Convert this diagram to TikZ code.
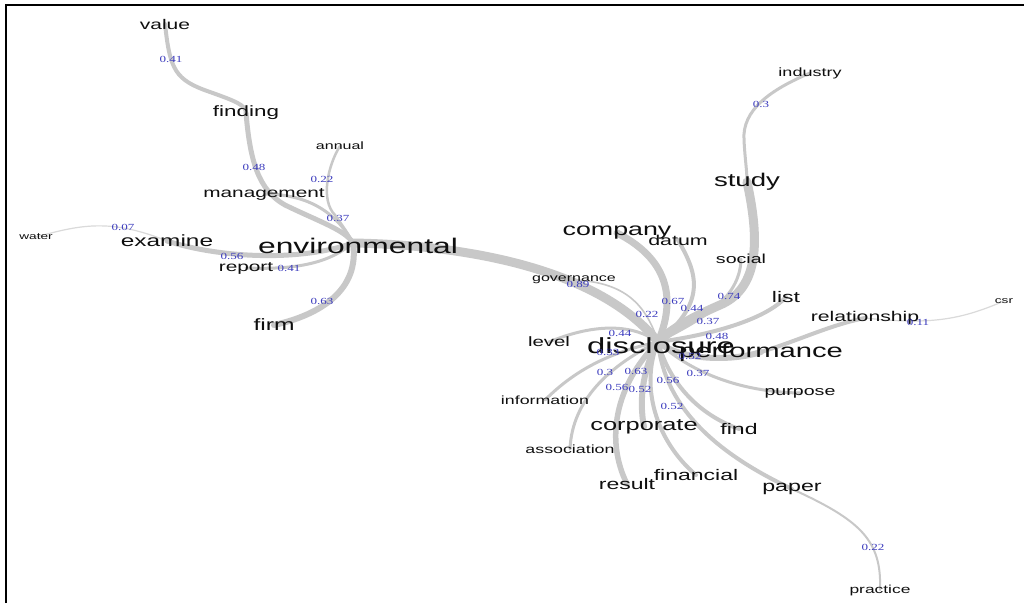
\documentclass[tikz,border=0pt]{standalone}
\usepackage{fontspec}
\setmainfont{Liberation Sans}[FakeStretch=1.5]
\newfontfamily\labfont{Liberation Serif}[FakeStretch=1.4]
\definecolor{edgec}{RGB}{200,200,200}
\definecolor{edgel}{RGB}{218,218,218}
\definecolor{labc}{RGB}{60,60,190}
\definecolor{wordc}{RGB}{15,15,15}
\pgfdeclarelayer{background}
\pgfsetlayers{background,main}
\tikzset{
  word/.style={inner sep=0pt, text=wordc, anchor=center, yshift=-1.5pt, font=\fontsize{#1}{#1}\selectfont},
  elab/.style={inner sep=0pt, text=labc, font=\labfont\fontsize{7}{7}\selectfont},
  conn/.style={draw=edgec, line width=#1*0.75pt, line cap=round},
  lconn/.style={draw=edgel, line width=#1*0.75pt, line cap=round},
}
\begin{document}
\begin{tikzpicture}[x=0.75pt,y=-0.75pt]
\useasboundingbox (0,0) rectangle (1024,603);
\draw[line width=1.1pt] (6,603) -- (6,5) -- (1024,5);

% words
\path
  node[word=10.5pt] (value) at (165,22) {value}
  node[word=11.2pt] (finding) at (246,111) {finding}
  node[word=8pt] (annual) at (340,144) {annual}
  node[word=10.4pt] (management) at (264,192) {management}
  node[word=12.2pt] (examine) at (167,239) {examine}
  node[word=6.8pt] (water) at (36,235) {water}
  node[word=15.9pt] (env) at (358,244) {environmental}
  node[word=10.4pt] (report) at (246,266) {report}
  node[word=12.3pt] (firm) at (274,323) {firm}
  node[word=9pt] (industry) at (810,71) {industry}
  node[word=13.8pt] (study) at (747,180) {study}
  node[word=13.4pt] (company) at (617,231) {company}
  node[word=10.7pt] (datum) at (678,238) {datum}
  node[word=9.8pt] (social) at (741,257) {social}
  node[word=8pt] (governance) at (574,278) {governance}
  node[word=11.5pt] (list) at (786,295) {list}
  node[word=10.6pt] (relationship) at (865,316) {relationship}
  node[word=6.8pt] (csr) at (1004,299) {csr}
  node[word=10.2pt] (level) at (549,340) {level}
  node[word=16.4pt] (disc) at (661,344) {disclosure}
  node[word=14.6pt] (perf) at (761,350) {performance}
  node[word=8.9pt] (info) at (545,398) {information}
  node[word=9.8pt] (purpose) at (800,391) {purpose}
  node[word=12.7pt] (corp) at (644,425) {corporate}
  node[word=11.5pt] (find) at (739,427) {find}
  node[word=8.9pt] (assoc) at (570,447) {association}
  node[word=11.5pt] (fin) at (696,473) {financial}
  node[word=11.5pt] (result) at (627,482) {result}
  node[word=11.6pt] (paper) at (792,487) {paper}
  node[word=8.7pt] (practice) at (880,588) {practice};
\coordinate (hub) at (658,342);
\coordinate (envc) at (353,243);

% edge labels
\node[elab] (l1) at (171,59) {0.41};
\node[elab] (l2) at (254,167) {0.48};
\node[elab] (l3) at (322,179) {0.22};
\node[elab] (l4) at (338,218) {0.37};
\node[elab] (l5) at (123,227) {0.07};
\node[elab] (l6) at (232,256) {0.56};
\node[elab] (l7) at (289,268) {0.41};
\node[elab] (l8) at (322,301) {0.63};
\node[elab] (l9) at (761,104) {0.3};
\node[elab] (l10) at (578,284) {0.89};
\node[elab] (l11) at (647,314) {0.22};
\node[elab] (l12) at (673,301) {0.67};
\node[elab] (l13) at (692,308) {0.44};
\node[elab] (l14) at (729,296) {0.74};
\node[elab] (l15) at (708,321) {0.37};
\node[elab] (l16) at (717,336) {0.48};
\node[elab] (l17) at (620,333) {0.44};
\node[elab] (l18) at (608,352) {0.33};
\node[elab] (l19) at (918,322) {0.11};
\node[elab] (l20) at (690,356) {0.52};
\node[elab] (l21) at (605,372) {0.3};
\node[elab] (l22) at (636,371) {0.63};
\node[elab] (l23) at (668,380) {0.56};
\node[elab] (l24) at (698,373) {0.37};
\node[elab] (l25) at (617,387) {0.56};
\node[elab] (l26) at (640,389) {0.52};
\node[elab] (l27) at (672,406) {0.52};
\node[elab] (l28) at (873,547) {0.22};

% edges
\begin{pgfonlayer}{background}
\fill[white] (0,0) rectangle (1024,603);
\path[conn=4] (value.center) .. controls (170,70) and (175,80) .. (210,92) .. controls (235,101) and (246,105) .. (finding.center);
\path[conn=5] (finding.center) .. controls (250,160) and (258,190) .. (285,205) .. controls (320,222) and (345,230) .. (envc);
\path[conn=3] (management.center) .. controls (305,194) and (335,210) .. (envc);
\path[conn=2.5] (annual.center) .. controls (328,165) and (320,200) .. (335,215) .. controls (342,225) and (350,236) .. (envc);
\path[lconn=1.2] (water.center) .. controls (80,225) and (110,218) .. (examine.center);
\path[conn=5] (examine.center) .. controls (220,258) and (300,262) .. (envc);
\path[conn=3] (report.center) .. controls (300,270) and (330,262) .. (envc);
\path[conn=6] (firm.center) .. controls (320,315) and (360,290) .. (envc);
\path[conn=9] (envc) .. controls (470,245) and (600,270) .. (hub);
\path[conn=1.6] (governance.center) .. controls (620,282) and (645,300) .. (hub);
\path[conn=7] (company.center) .. controls (660,255) and (680,290) .. (hub);
\path[conn=4] (datum.center) .. controls (695,270) and (710,300) .. (hub);
\path[conn=9] (study.center) .. controls (762,250) and (755,290) .. (720,305) .. controls (690,318) and (670,330) .. (hub);
\path[conn=3] (social.center) .. controls (740,300) and (700,320) .. (hub);
\path[conn=3] (industry.center) .. controls (770,90) and (742,110) .. (744,140) .. controls (745,160) and (747,170) .. (study.center);
\path[conn=4] (list.center) .. controls (765,320) and (710,335) .. (hub);
\path[conn=4] (relationship.center) .. controls (830,325) and (800,340) .. (perf.center);
\path[lconn=1.2] (relationship.center) .. controls (930,325) and (960,320) .. (csr.center);
\path[conn=6] (hub) .. controls (680,360) and (730,362) .. (perf.center);
\path[conn=3] (level.center) .. controls (590,325) and (630,322) .. (hub);
\path[conn=3] (info.center) .. controls (575,370) and (610,352) .. (hub);
\path[conn=3] (assoc.center) .. controls (572,400) and (610,365) .. (hub);
\path[conn=5.5] (result.center) .. controls (605,440) and (615,385) .. (hub);
\path[conn=6] (corp.center) .. controls (638,395) and (645,365) .. (hub);
\path[conn=4] (fin.center) .. controls (655,440) and (640,385) .. (hub);
\path[conn=4] (find.center) .. controls (700,415) and (670,385) .. (hub);
\path[conn=4] (paper.center) .. controls (720,455) and (665,410) .. (hub);
\path[conn=2] (paper.center) .. controls (860,520) and (882,540) .. (practice.center);
\path[conn=3] (purpose.center) .. controls (740,392) and (690,372) .. (hub);
\end{pgfonlayer}
\end{tikzpicture}
\end{document}
